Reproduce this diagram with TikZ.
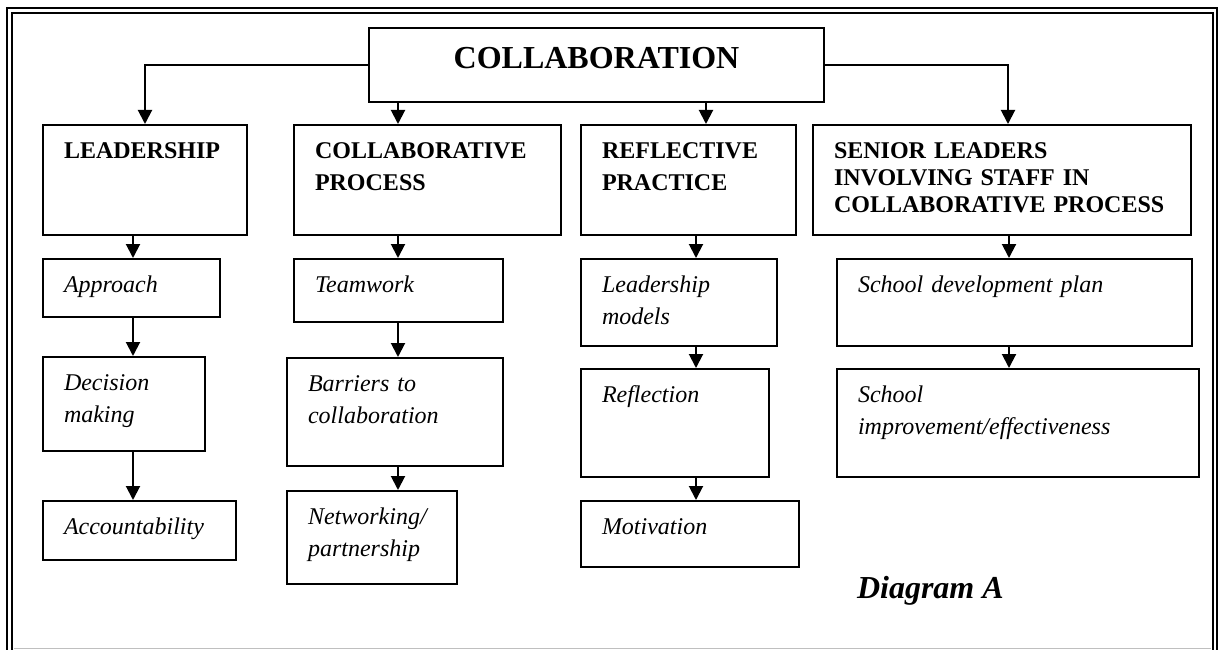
\documentclass[tikz,border=0pt]{standalone}
\usepackage{fontspec}
\setmainfont{Liberation Serif}
\usetikzlibrary{arrows.meta}

\begin{document}
\begin{tikzpicture}
	[
	x=1pt, y=-1pt,
	every node/.style={draw=black, line width=2pt, anchor=north west, align=left,
		inner xsep=21pt, inner ysep=0pt, text height=33pt,
		font=\fontsize{24}{32}\selectfont\itshape},
	head/.style={font=\fontsize{24}{32}\selectfont\bfseries, text height=34pt, text depth=76pt},
	arr/.style={line width=2pt, -{Triangle[width=14pt,length=14pt]}},
	frame/.style={line width=2pt}
	]
		\useasboundingbox (0,0) rectangle (1219,650);
		
		% frame
		\draw[frame] (7,650) -- (7,8) -- (1217,8) -- (1217,650);
		\draw[frame] (12,650) -- (12,13) -- (1213,13) -- (1213,650);
		\draw[gray!50, line width=1pt] (14,648) -- (1211,648);
		
		% level 1
		\node[head, font=\fontsize{32}{38}\selectfont\bfseries, align=center,
			text width=413pt, text height=41pt, text depth=33pt] (top) at (368,27) {COLLABORATION};
		
		% level 2
		\node[head, text width=162pt] (lead) at (42,124) {LEADERSHIP};
		\node[head, text width=225pt] (coll) at (293,124) {COLLABORATIVE\\PROCESS};
		\node[head, text width=173pt] (refl) at (580,124) {REFLECTIVE\\PRACTICE};
		\node[head, text width=336pt, font=\fontsize{24}{27}\selectfont\bfseries] (sen) at (812,124)
			{SENIOR LEADERS\\INVOLVING STAFF IN\\COLLABORATIVE PROCESS};
		
		% level 3
		\node[text width=135pt, text depth=25pt] (appr) at (42,258) {Approach};
		\node[text width=167pt, text depth=30pt] (team) at (293,258) {Teamwork};
		\node[text width=154pt, text depth=54pt] (lmod) at (580,258) {Leadership\\models};
		\node[text width=313pt, text depth=54pt] (sdp) at (836,258) {School development plan};
		
		% level 4
		\node[text width=120pt, text depth=61pt] (dec) at (42,356) {Decision\\making};
		\node[text width=174pt, text depth=75pt] (barr) at (286,357) {Barriers to\\collaboration};
		\node[text width=146pt, text depth=75pt] (refl2) at (580,368) {Reflection};
		\node[text width=320pt, text depth=75pt] (simp) at (836,368) {School\\improvement/effectiveness};
		
		% level 5
		\node[text width=151pt, text depth=26pt] (acc) at (42,500) {Accountability};
		\node[text width=128pt, text depth=60pt] (net) at (286,490) {Networking/\\partnership};
		\node[text width=176pt, text depth=33pt] (mot) at (580,500) {Motivation};
		
		\node[draw=none, anchor=base west, inner sep=0pt,
			font=\fontsize{32}{38}\selectfont\bfseries\itshape] (diag) at (856,598) {Diagram A};
		
		% drawing code
		\draw[arr] (top.west) -| (lead.north);
		\draw[arr] (top.east) -| (sen.north -| 1008,0);
		\foreach \from/\to/\x in {top/coll/398,top/refl/706,
			lead/appr/133,appr/dec/133,dec/acc/133,
			coll/team/398,team/barr/398,barr/net/398,
			refl/lmod/696,lmod/refl2/696,refl2/mot/696,
			sen/sdp/1009,sdp/simp/1009}
			\draw[arr] (\from.south -| \x,0) -- (\to.north -| \x,0);
\end{tikzpicture}
\end{document}
